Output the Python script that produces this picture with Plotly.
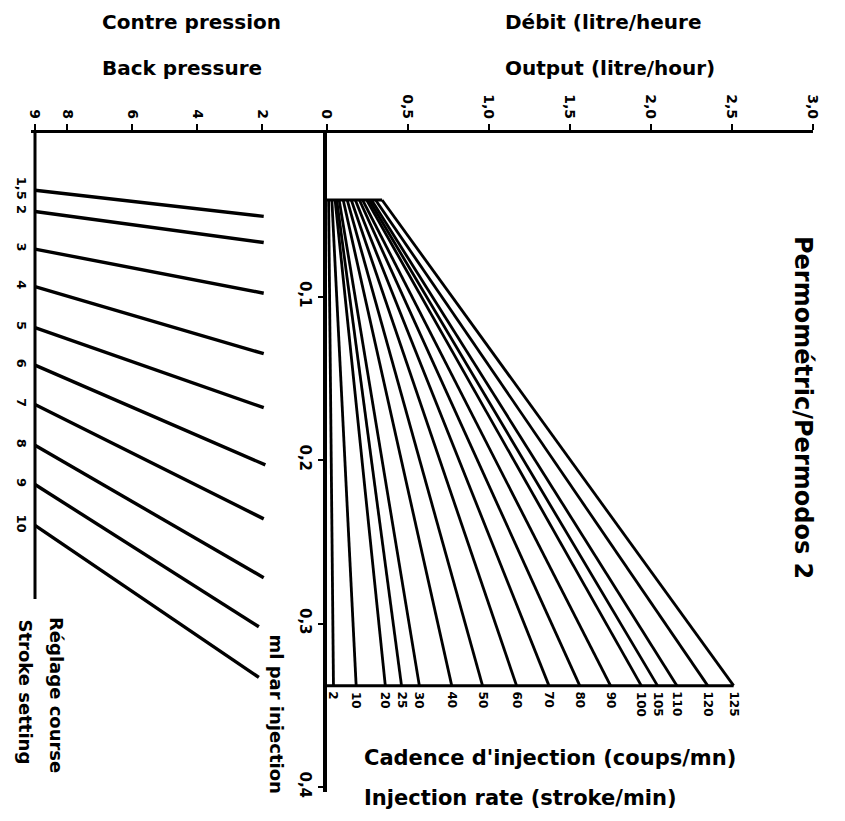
import plotly.graph_objects as go

# the page body adds an 8 px margin, so the figure is drawn 8 px in
PAGE_W, PAGE_H = 845, 821
OFF = 8
W, H = PAGE_W - OFF, PAGE_H - OFF

# ---------------- data ----------------
# Right nomogram: one line per injection rate (strokes/min)
rates = [2, 10, 20, 25, 30, 40, 50, 60, 70, 80, 90, 100, 105, 110, 120, 125]
fan_top_output = [0.01, 0.03, 0.05, 0.06, 0.075, 0.10, 0.125, 0.15, 0.175, 0.20,
                  0.22, 0.245, 0.26, 0.275, 0.30, 0.34]          # l/h at top edge
fan_bottom_output = [0.04, 0.18, 0.36, 0.46, 0.57, 0.77, 0.96, 1.17, 1.37, 1.56,
                     1.75, 1.94, 2.04, 2.16, 2.35, 2.51]          # l/h at bottom edge
fan_top_ml = 0.041
fan_bottom_ml = 0.338

# Left nomogram: one line per stroke setting
stroke_labels = ["1,5", "2", "3", "4", "5", "6", "7", "8", "9", "10"]
stroke_start_bar = 9
stroke_start_ml = [0.035, 0.048, 0.071, 0.094, 0.119, 0.142, 0.166, 0.191, 0.215, 0.240]
stroke_end_bar = [1.95, 1.95, 1.95, 1.95, 1.95, 1.9, 1.95, 1.95, 2.1, 2.1]
stroke_end_ml = [0.051, 0.067, 0.098, 0.135, 0.168, 0.203, 0.236, 0.272, 0.302, 0.333]
left_axis_end_ml = 0.285

pressure_ticks = [9, 8, 6, 4, 2]
pressure_tick_text = ["9", "8", "6", "4", "2"]
output_ticks = [0, 0.5, 1.0, 1.5, 2.0, 2.5, 3.0]
output_tick_text = ["0", "0,5", "1,0", "1,5", "2,0", "2,5", "3,0"]
ml_ticks = [0.1, 0.2, 0.3, 0.4]
ml_tick_text = ["0,1", "0,2", "0,3", "0,4"]

# ---------------- layout geometry (page pixels) ----------------
def px(x):
    return (x - OFF) / W

def py(y):
    return 1 - (y - OFF) / H

Y0 = 133            # pixel row of ml = 0
Y_END = 792         # bottom of main ml axis
PX_PER_ML = 1635.0  # 163.5 px per 0.1 ml
ml_range = [(Y_END - Y0) / PX_PER_ML, 0]

BAR_X0, BAR_X9 = 327, 35
px_per_bar = (BAR_X0 - BAR_X9) / 9.0
LEFT_DOM0 = 31
pressure_range = [9 + (BAR_X9 - LEFT_DOM0) / px_per_bar, 0]

FONT = "DejaVu Sans"
BLACK = "#000000"

fig = go.Figure()

# fan of injection-rate lines
fx, fy = [], []
for t, b in zip(fan_top_output, fan_bottom_output):
    fx += [t, b, None]
    fy += [fan_top_ml, fan_bottom_ml, None]
fig.add_trace(go.Scatter(x=fx, y=fy, xaxis="x2", yaxis="y", mode="lines",
                         line=dict(color=BLACK, width=2.8), hoverinfo="skip"))
# top and bottom closing lines of the fan
fig.add_trace(go.Scatter(x=[0, max(fan_top_output)], y=[fan_top_ml, fan_top_ml],
                         xaxis="x2", yaxis="y", mode="lines",
                         line=dict(color=BLACK, width=3), hoverinfo="skip"))
fig.add_trace(go.Scatter(x=[0, max(fan_bottom_output)], y=[fan_bottom_ml, fan_bottom_ml],
                         xaxis="x2", yaxis="y", mode="lines",
                         line=dict(color=BLACK, width=3), hoverinfo="skip"))

# stroke-setting lines
sx, sy = [], []
for s0, e_bar, e_ml in zip(stroke_start_ml, stroke_end_bar, stroke_end_ml):
    sx += [stroke_start_bar, e_bar, None]
    sy += [s0, e_ml, None]
fig.add_trace(go.Scatter(x=sx, y=sy, xaxis="x", yaxis="y2", mode="lines",
                         line=dict(color=BLACK, width=3.4), hoverinfo="skip"))
# left vertical (stroke) axis
fig.add_trace(go.Scatter(x=[stroke_start_bar, stroke_start_bar], y=[0, left_axis_end_ml],
                         xaxis="x", yaxis="y2", mode="lines",
                         line=dict(color=BLACK, width=3), hoverinfo="skip"))

tick_font = dict(family=FONT, size=14, color=BLACK, weight="bold")

fig.update_layout(
    width=W, height=H,
    margin=dict(l=0, r=0, t=0, b=0),
    paper_bgcolor="white", plot_bgcolor="white",
    showlegend=False,
    xaxis=dict(domain=[px(LEFT_DOM0), px(BAR_X0)], range=pressure_range, side="top",
               anchor="y2", showline=True, linecolor=BLACK, linewidth=3,
               showgrid=False, zeroline=False, ticks="outside", ticklen=6,
               tickwidth=2, tickcolor=BLACK, tickvals=pressure_ticks,
               ticktext=pressure_tick_text, tickangle=90, tickfont=tick_font,
               automargin=False),
    xaxis2=dict(domain=[px(BAR_X0), px(813)], range=[0, 3.0], side="top",
                anchor="y", showline=True, linecolor=BLACK, linewidth=3,
                showgrid=False, zeroline=False, ticks="outside", ticklen=6,
                tickwidth=2, tickcolor=BLACK, tickvals=output_ticks,
                ticktext=output_tick_text, tickangle=90, tickfont=tick_font,
                automargin=False),
    yaxis=dict(domain=[py(Y_END), py(Y0)], range=ml_range, anchor="x2", side="left",
               showline=True, linecolor=BLACK, linewidth=4, showgrid=False,
               zeroline=False, ticks="outside", ticklen=5, tickwidth=2,
               tickcolor=BLACK, tickvals=ml_ticks, ticktext=ml_tick_text,
               tickangle=90, tickfont=dict(family=FONT, size=15, color=BLACK, weight="bold"),
               automargin=False),
    yaxis2=dict(domain=[py(Y_END), py(Y0)], range=ml_range, anchor="x", side="left",
                showline=False, showgrid=False, zeroline=False, ticks="",
                tickvals=stroke_start_ml,
                ticktext=stroke_labels, tickangle=90,
                tickfont=dict(family=FONT, size=13, color=BLACK, weight="bold"),
                automargin=False),
)

ann = []
# injection-rate labels under the fan
for r, b in zip(rates, fan_bottom_output):
    ann.append(dict(x=b, y=fan_bottom_ml, xref="x2", yref="y", text=str(r),
                    textangle=90, showarrow=False, xanchor="center", yanchor="top",
                    yshift=-4, font=dict(family=FONT, size=12, color=BLACK, weight="bold")))

title_font = dict(family=FONT, size=20, color=BLACK, weight="bold")
ann += [
    dict(x=px(100), y=py(22), text="Contre pression", xanchor="left"),
    dict(x=px(100), y=py(68), text="Back pressure", xanchor="left"),
    dict(x=px(503), y=py(22), text="Débit (litre/heure", xanchor="left"),
    dict(x=px(503), y=py(68), text="Output (litre/hour)", xanchor="left"),
]
for a in ann[-4:]:
    a.update(xref="paper", yref="paper", showarrow=False, yanchor="middle", font=title_font)

bottom_font = dict(family=FONT, size=21, color=BLACK, weight="bold")
for txt, yy in [("Cadence d'injection (coups/mn)", 758), ("Injection rate (stroke/min)", 798)]:
    ann.append(dict(x=px(362), y=py(yy), text=txt, xref="paper", yref="paper",
                    showarrow=False, xanchor="left", yanchor="middle", font=bottom_font))

ann.append(dict(x=px(803), y=py(407), text="Permométric/Permodos 2", xref="paper",
                yref="paper", showarrow=False, textangle=90, xanchor="center",
                yanchor="middle", font=dict(family=FONT, size=24, color=BLACK, weight="bold")))

side_font = dict(family=FONT, size=18, color=BLACK, weight="bold")
for txt, xx, yy in [("ml par injection", 276, 632), ("Réglage course", 57, 615),
                    ("Stroke setting", 25, 617)]:
    ann.append(dict(x=px(xx), y=py(yy), text=txt, xref="paper", yref="paper",
                    showarrow=False, textangle=90, xanchor="center", yanchor="top",
                    font=side_font))

fig.update_layout(annotations=ann)

fig.write_html("out.html")
